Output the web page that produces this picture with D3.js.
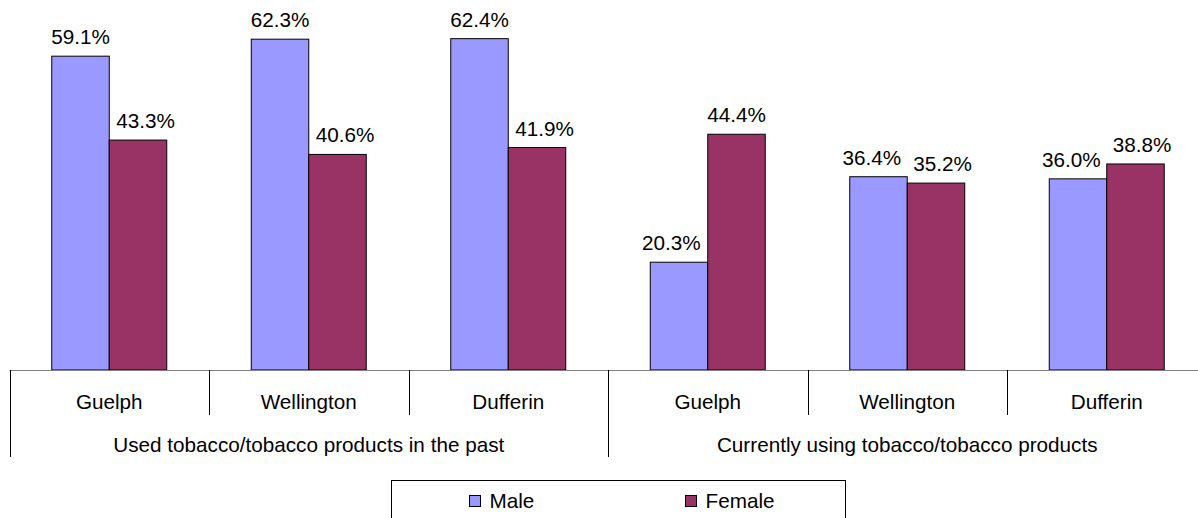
<!DOCTYPE html>
<html>
<head>
<meta charset="utf-8">
<script src="https://cdn.jsdelivr.net/npm/d3@7"></script>
<style>
  html, body { margin: 0; padding: 0; background: #fff; }
  svg { display: block; font-family: "Liberation Sans", Arial, sans-serif; }
</style>
</head>
<body>
<svg id="chart" width="1198" height="518"></svg>
<script>
// Tobacco use by region and sex
const groups = ["Used tobacco/tobacco products in the past", "Currently using tobacco/tobacco products"];
const regions = ["Guelph", "Wellington", "Dufferin"];
const seriesNames = ["Male", "Female"];
const maleValues = [59.1, 62.3, 62.4, 20.3, 36.4, 36.0];
const femaleValues = [43.3, 40.6, 41.9, 44.4, 35.2, 38.8];
const colors = ["#9999FF", "#993366"];

const svg = d3.select("#chart");
const fontSize = 20.7;

const plotLeft = 9.5, groupWidth = 199.5;
const baseY = 370;

const categories = [];
groups.forEach((g, gi) => regions.forEach((r, ri) => categories.push({ key: gi + "-" + r, region: r, group: gi })));

const x = d3.scaleBand()
  .domain(categories.map(c => c.key))
  .range([plotLeft, plotLeft + groupWidth * categories.length])
  .paddingInner(0)
  .paddingOuter(0);

const xSeries = d3.scaleBand()
  .domain(seriesNames)
  .range([0, x.bandwidth()])
  .paddingInner(0)
  .paddingOuter(0.735);

const y = d3.scaleLinear().domain([0, 70]).range([baseY, baseY - 70 * 5.31]);

const data = categories.map((c, i) => ({ ...c, values: [maleValues[i], femaleValues[i]] }));

// bars
const cat = svg.append("g").selectAll("g").data(data).join("g")
  .attr("transform", d => `translate(${x(d.key)},0)`);

cat.selectAll("rect").data(d => d.values.map((v, i) => ({ v, s: seriesNames[i], i })))
  .join("rect")
  .attr("x", d => xSeries(d.s))
  .attr("y", d => y(d.v))
  .attr("width", xSeries.bandwidth())
  .attr("height", d => y(0) - y(d.v))
  .attr("fill", d => colors[d.i])
  .attr("stroke", "#000")
  .attr("stroke-width", 1);

const labelGap = 12, barGap = 7;
cat.each(function (cd) {
  const labels = d3.select(this).selectAll("text.val")
    .data(cd.values.map((v, i) => ({ v, s: seriesNames[i], i })))
    .join("text")
    .attr("class", "val")
    .attr("x", d => xSeries(d.s) + xSeries.bandwidth() / 2)
    .attr("y", d => y(d.v) - 12)
    .attr("text-anchor", "middle")
    .attr("font-size", fontSize)
    .attr("fill", "#000")
    .text(d => d.v.toFixed(1) + "%");

  const [a, b] = labels.nodes();
  const wa = a.getComputedTextLength(), wb = b.getComputedTextLength();
  const ya = +a.getAttribute("y"), yb = +b.getAttribute("y");
  let xa = +a.getAttribute("x"), xb = +b.getAttribute("x");

  // keep each label clear of the neighbouring taller bar
  const maleRight = xSeries(seriesNames[1]);
  if (y(cd.values[1]) < ya - 4) xa = Math.min(xa, maleRight - barGap - wa / 2);
  if (y(cd.values[0]) < yb - 4) xb = Math.max(xb, maleRight + barGap + wb / 2);

  // push side-by-side labels apart when they would collide
  if (Math.abs(ya - yb) < fontSize) {
    const gap = (xb - wb / 2) - (xa + wa / 2);
    if (gap < labelGap) {
      const shift = (labelGap - gap) / 2;
      xa -= shift;
      xb += shift;
    }
  }
  a.setAttribute("x", xa);
  b.setAttribute("x", xb);
});

// category axis
svg.append("line")
  .attr("x1", plotLeft).attr("x2", 1198)
  .attr("y1", baseY + 0.5).attr("y2", baseY + 0.5)
  .attr("stroke", "#808080").attr("stroke-width", 1);

const axisG = svg.append("g");
categories.forEach((c, i) => {
  const xl = Math.round(x(c.key)) + 0.5;
  const isGroupEdge = i % regions.length === 0;
  axisG.append("line")
    .attr("x1", xl).attr("x2", xl)
    .attr("y1", baseY).attr("y2", isGroupEdge ? 457 : 415)
    .attr("stroke", "#000").attr("stroke-width", 1);
  axisG.append("text")
    .attr("x", x(c.key) + x.bandwidth() / 2)
    .attr("y", 409)
    .attr("text-anchor", "middle")
    .attr("font-size", fontSize)
    .text(c.region);
});

groups.forEach((g, gi) => {
  const x0 = x(categories[gi * regions.length].key);
  axisG.append("text")
    .attr("x", x0 + groupWidth * regions.length / 2)
    .attr("y", 451.5)
    .attr("text-anchor", "middle")
    .attr("font-size", fontSize)
    .text(g);
});

// legend
const legend = svg.append("g");
legend.append("rect")
  .attr("x", 391.5).attr("y", 480.5)
  .attr("width", 454).attr("height", 50)
  .attr("fill", "none").attr("stroke", "#000").attr("stroke-width", 1);

const legendX = [469.5, 685.5];
seriesNames.forEach((s, i) => {
  legend.append("rect")
    .attr("x", legendX[i]).attr("y", 495.5)
    .attr("width", 11).attr("height", 11)
    .attr("fill", colors[i]).attr("stroke", "#000").attr("stroke-width", 1);
  legend.append("text")
    .attr("x", legendX[i] + 20)
    .attr("y", 507.5)
    .attr("font-size", fontSize)
    .text(s);
});
</script>
</body>
</html>
